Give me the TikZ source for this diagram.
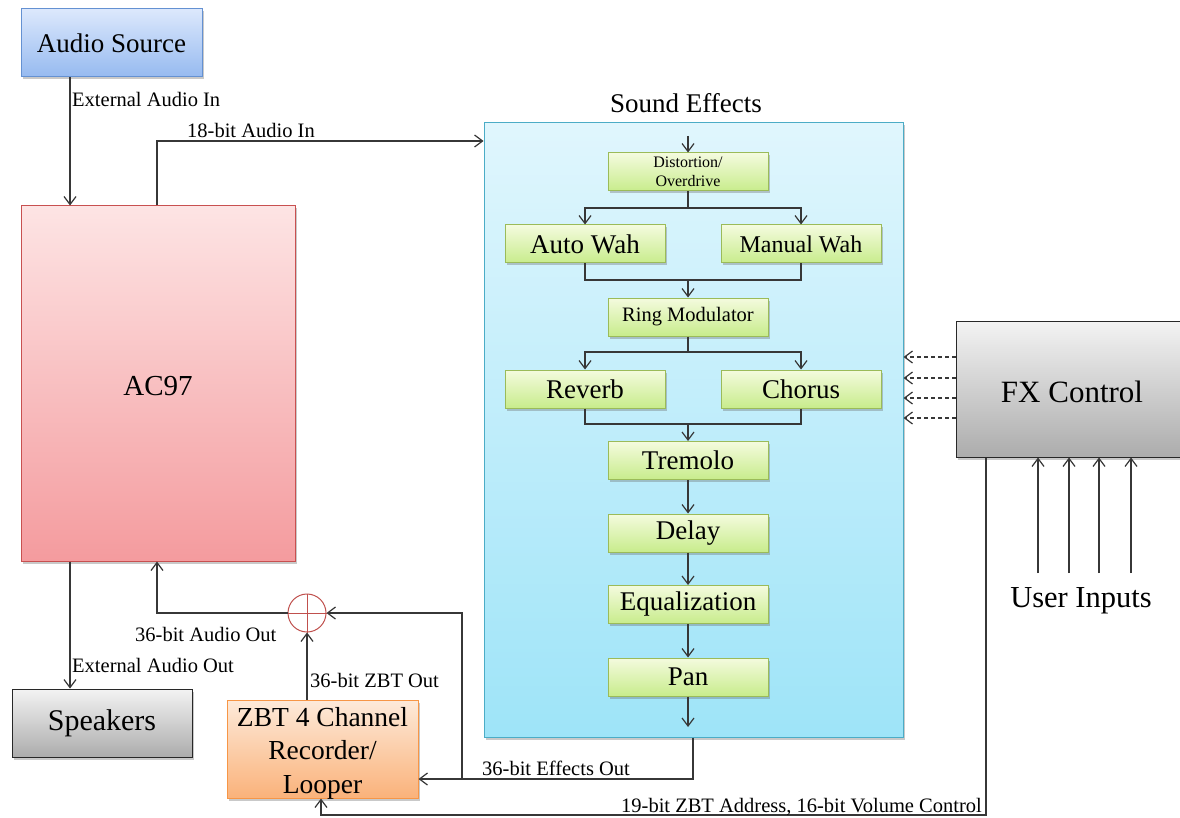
\documentclass[tikz,border=0pt]{standalone}
\usepackage{fontspec}
\setmainfont{Liberation Serif}
\usetikzlibrary{arrows.meta,shadows}
\definecolor{lc}{RGB}{55,55,55}
\definecolor{srcT}{RGB}{220,232,252}\definecolor{srcB}{RGB}{150,186,240}\definecolor{srcD}{RGB}{100,145,210}
\definecolor{acT}{RGB}{253,228,228}\definecolor{acB}{RGB}{244,155,158}\definecolor{acD}{RGB}{200,80,80}
\definecolor{sfT}{RGB}{224,246,253}\definecolor{sfB}{RGB}{158,228,248}\definecolor{sfD}{RGB}{75,172,198}
\definecolor{grT}{RGB}{244,251,222}\definecolor{grB}{RGB}{200,236,140}\definecolor{grD}{RGB}{155,187,89}
\definecolor{orT}{RGB}{253,234,218}\definecolor{orB}{RGB}{250,178,122}\definecolor{orD}{RGB}{247,150,70}
\definecolor{gyT}{RGB}{243,243,243}\definecolor{gyB}{RGB}{172,172,172}\definecolor{gyD}{RGB}{40,40,40}
\definecolor{addc}{RGB}{192,80,77}
\begin{document}
\begin{tikzpicture}[x=1pt,y=-1pt,
  box/.style={draw, line width=1pt, inner sep=0pt, align=center,
    drop shadow={shadow xshift=2pt, shadow yshift=-2.5pt, opacity=0.35, fill=black!60}},
  srcbox/.style={box, top color=srcT, bottom color=srcB, draw=srcD},
  acbox/.style={box, top color=acT, bottom color=acB, draw=acD},
  sfbox/.style={box, top color=sfT, bottom color=sfB, draw=sfD},
  grbox/.style={box, top color=grT, bottom color=grB, draw=grD, minimum width=160pt, minimum height=38pt},
  orbox/.style={box, top color=orT, bottom color=orB, draw=orD},
  gybox/.style={box, top color=gyT, bottom color=gyB, draw=gyD},
  ln/.style={draw=lc, line width=1.2pt},
  arr/.style={ln, -{Straight Barb[length=8pt,width=12pt]}},
  lbl/.style={inner sep=0pt, font=\fontsize{20.5}{23}\selectfont},
  fa/.style={font=\fontsize{27}{31}\selectfont}
]
\useasboundingbox (0,0) rectangle (1180,818);
\fill[white] (0,0) rectangle (1180,818);

% main blocks
\node[srcbox, minimum width=181pt, minimum height=68pt, fa] (src) at (111.5,43) {Audio Source};
\node[acbox, minimum width=274pt, minimum height=355pt] (ac97) at (158,383.5) {};
\node[inner sep=0pt, font=\fontsize{29}{33}\selectfont] (ac97t) at (158,386) {AC97};
\node[sfbox, minimum width=419pt, minimum height=614pt] (sfx) at (693.5,430) {};
\node[inner sep=0pt, fa] (sfxt) at (686,103) {Sound Effects};
\node[gybox, minimum width=180pt, minimum height=68pt, font=\fontsize{30}{34}\selectfont] (spk) at (102,723) {Speakers};
\node[orbox, minimum width=191pt, minimum height=98pt] (zbt) at (322.5,749) {};
\node[inner sep=0pt, align=center, font=\fontsize{27.5}{33.5}\selectfont] (zbtt) at (322.5,753) {ZBT 4 Channel\\Recorder/\\Looper};
\node[gybox, minimum width=234pt, minimum height=136pt] (fx) at (1073,389) {};
\node[inner sep=0pt, font=\fontsize{31}{35}\selectfont] (fxt) at (1072,392) {FX Control};
\node[inner sep=0pt, font=\fontsize{30.5}{34}\selectfont] (ui) at (1081,601) {User Inputs};

% effect chain
\node[grbox, font=\fontsize{16}{19}\selectfont] (dist) at (688,172) {Distortion/\\Overdrive};
\node[grbox, fa] (awah) at (585,244) {Auto Wah};
\node[grbox, font=\fontsize{24}{28}\selectfont] (mwah) at (801,244) {Manual Wah};
\node[grbox, font=\fontsize{20.5}{24}\selectfont] (ring) at (688,317) {Ring Modulator};
\node[grbox, fa] (rev) at (585,389) {Reverb};
\node[grbox, fa] (chor) at (801,389) {Chorus};
\node[grbox, fa] (trem) at (688,460.5) {Tremolo};
\node[grbox, fa] (delay) at (688,533) {Delay};
\node[grbox, fa] (eq) at (688,604.5) {Equalization};
\node[grbox, fa] (pan) at (688,677) {Pan};

% adder
\node[draw=addc, line width=1pt, circle, minimum size=38pt, inner sep=0pt] (add) at (307,613) {};
\draw[addc, line width=1pt] (add.north) -- (add.south) (add.west) -- (add.east);

% junction coordinates
\coordinate (sfxin) at (688,136);
\coordinate (sfxout) at (688,727);
\coordinate (j1) at (688,208);
\coordinate (j2) at (688,280);
\coordinate (j3) at (688,352);
\coordinate (j4) at (688,424);
\coordinate (fbj) at (462,779);
\coordinate (zb) at (321,815);

% chain connectors
\draw[arr] (sfxin) -- (dist.north);
\draw[ln] (dist.south) -- (j1);
\draw[arr] (j1) -| (awah.north);
\draw[arr] (j1) -| (mwah.north);
\draw[ln] (awah.south) |- (j2);
\draw[ln] (mwah.south) |- (j2);
\draw[arr] (j2) -- (ring.north);
\draw[ln] (ring.south) -- (j3);
\draw[arr] (j3) -| (rev.north);
\draw[arr] (j3) -| (chor.north);
\draw[ln] (rev.south) |- (j4);
\draw[ln] (chor.south) |- (j4);
\draw[arr] (j4) -- (trem.north);
\draw[arr] (trem.south) -- (delay.north);
\draw[arr] (delay.south) -- (eq.north);
\draw[arr] (eq.south) -- (pan.north);
\draw[arr] (pan.south) -- (sfxout);

% system connectors
\draw[arr] (src.south -| 70,0) -- (ac97.north -| 70,0);
\node[lbl, anchor=west] (lExtIn) at (72,99) {External Audio In};
\draw[arr] (ac97.north -| 157,0) |- (sfx.west |- 0,141);
\node[lbl, anchor=west] (l18) at (187,130) {18-bit Audio In};
\draw[arr] (sfx.south -| 693,0) |- (zbt.east |- fbj);
\node[lbl, anchor=west] (lEff) at (482,768) {36-bit Effects Out};
\draw[arr] (fbj) |- (add.east);
\draw[arr] (zbt.north -| add) -- (add.south);
\node[lbl, anchor=west] (lZbt) at (310,680) {36-bit ZBT Out};
\draw[arr] (add.west) -| (ac97.south -| 157,0);
\node[lbl, anchor=west] (lAOut) at (135,634) {36-bit Audio Out};
\draw[arr] (ac97.south -| 70,0) -- (spk.north -| 70,0);
\node[lbl, anchor=west] (lExtOut) at (72,665) {External Audio Out};
\draw[arr] (fx.south -| 986,0) |- (zb) -- (zbt.south -| zb);
\node[lbl, anchor=base east] (l19) at (982,812) {19-bit ZBT Address, 16-bit Volume Control};

% FX control dashed arrows
\foreach \yy in {357,378,398,418}
  \draw[arr, dash pattern=on 4pt off 3pt] (fx.west |- 0,\yy) -- (sfx.east |- 0,\yy);

% user inputs
\foreach \xx/\nm in {1038/u1,1069/u2,1099/u3,1131/u4}{
  \coordinate (\nm) at (\xx,573);
  \draw[arr] (\nm) -- (fx.south -| \nm);
}
\end{tikzpicture}
\end{document}
